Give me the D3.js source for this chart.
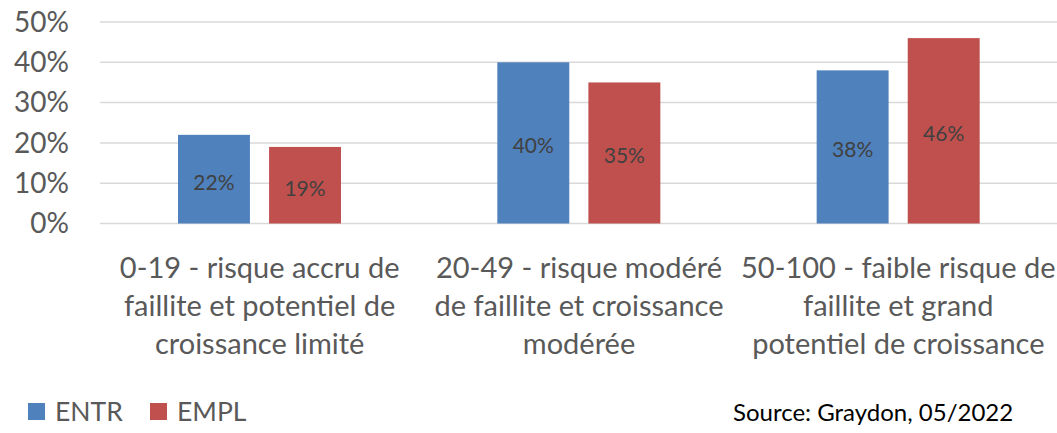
<!DOCTYPE html>
<html>
<head>
<meta charset="utf-8">
<script src="https://cdn.jsdelivr.net/npm/d3@7"></script>
<style>
  body { margin: 0; background: #fff; }
  text { font-family: Lato, "Open Sans", sans-serif; }
</style>
</head>
<body>
<div id="chart"></div>
<script>
var categories = [
  ["0-19 - risque accru de", "faillite et potentiel de", "croissance limité"],
  ["20-49 - risque modéré", "de faillite et croissance", "modérée"],
  ["50-100 - faible risque de", "faillite et grand", "potentiel de croissance"]
];
var seriesNames = ["ENTR", "EMPL"];
var seriesColors = ["#4F81BD", "#C0504D"];
var entr = [22, 40, 38];
var empl = [19, 35, 46];
var yTicks = [0, 10, 20, 30, 40, 50];
var sourceText = "Source: Graydon, 05/2022";

var width = 1057, height = 433;
var svg = d3.select("#chart").append("svg")
    .attr("width", width)
    .attr("height", height);

var x = d3.scaleBand()
    .domain([0, 1, 2])
    .range([100, 1058]);

var xInner = d3.scaleBand()
    .domain([0, 1])
    .range([78, 241])
    .paddingInner(0.21);

var y = d3.scaleLinear()
    .domain([0, 50])
    .range([223.5, 22]);

// gridlines
svg.selectAll(".grid")
    .data(yTicks)
    .enter()
    .append("line")
    .attr("x1", 100)
    .attr("x2", 1057)
    .attr("y1", function (d) { return y(d); })
    .attr("y2", function (d) { return y(d); })
    .style("stroke", "#d9d9d9")
    .style("stroke-width", 1.5);

// y tick labels
svg.selectAll(".ytick")
    .data(yTicks)
    .enter()
    .append("text")
    .attr("x", 69)
    .attr("y", function (d) { return y(d); })
    .attr("dy", "0.35em")
    .attr("text-anchor", "end")
    .style("font-size", "28px")
    .style("fill", "#595959")
    .text(function (d) { return d + "%"; });

var rows = [];
categories.forEach(function (c, i) {
  rows.push({ cat: i, s: 0, v: entr[i] });
  rows.push({ cat: i, s: 1, v: empl[i] });
});

svg.selectAll(".bar")
    .data(rows)
    .enter()
    .append("rect")
    .attr("x", function (d) { return x(d.cat) + xInner(d.s); })
    .attr("y", function (d) { return y(d.v); })
    .attr("width", xInner.bandwidth())
    .attr("height", function (d) { return y(0) - y(d.v); })
    .style("fill", function (d) { return seriesColors[d.s]; });

svg.selectAll(".lbl")
    .data(rows)
    .enter()
    .append("text")
    .attr("x", function (d) { return x(d.cat) + xInner(d.s) + xInner.bandwidth() / 2; })
    .attr("y", function (d) { return (y(d.v) + y(0)) / 2 + 3; })
    .attr("dy", "0.35em")
    .attr("text-anchor", "middle")
    .style("font-size", "21px")
    .style("fill", "#404040")
    .text(function (d) { return d.v + "%"; });

// category labels
categories.forEach(function (lines, i) {
  var t = svg.append("text")
      .attr("text-anchor", "middle")
      .style("font-size", "29px")
      .style("fill", "#595959");
  lines.forEach(function (l, j) {
    t.append("tspan")
      .attr("x", x(i) + x.bandwidth() / 2)
      .attr("y", 268 + j * 38)
      .attr("dy", "0.35em")
      .text(l);
  });
});

// legend
var legend = svg.selectAll(".legend")
    .data(seriesNames)
    .enter()
    .append("g")
    .attr("transform", function (d, i) { return "translate(" + (28 + i * 122) + ",403)"; });
legend.append("rect")
    .attr("width", 17)
    .attr("height", 17)
    .style("fill", function (d, i) { return seriesColors[i]; });
legend.append("text")
    .attr("x", 27)
    .attr("y", 9)
    .attr("dy", "0.35em")
    .style("font-size", "26.5px")
    .style("fill", "#595959")
    .text(function (d) { return d; });

svg.append("text")
    .attr("x", 733)
    .attr("y", 413)
    .attr("dy", "0.35em")
    .style("font-size", "24px")
    .style("fill", "#000")
    .text(sourceText);
</script>
</body>
</html>
